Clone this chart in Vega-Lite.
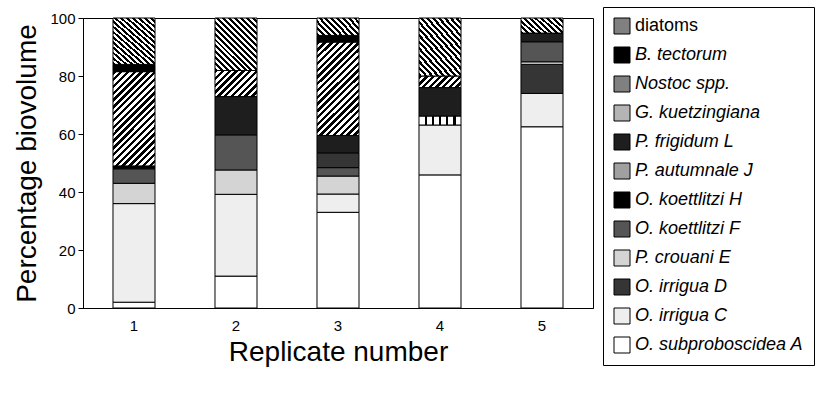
{
  "$schema": "https://vega.github.io/schema/vega-lite/v6.json",
  "width": 510,
  "height": 290,
  "autosize": {"type": "none"},
  "padding": {"left": 83, "top": 18, "right": 222, "bottom": 87},
  "config": {
    "view": {"stroke": "black", "strokeWidth": 1},
    "font": "Liberation Sans",
    "axis": {"labelColor": "black", "titleColor": "black", "domainColor": "black", "tickColor": "black", "grid": false, "titleFontWeight": "normal"}
  },
  "data": {
    "values": [
      {"replicate": "1", "taxon": "O. subproboscidea A", "pct": 2, "stack": 1},
      {"replicate": "1", "taxon": "O. irrigua C", "pct": 34, "stack": 2},
      {"replicate": "1", "taxon": "P. crouani E", "pct": 7, "stack": 4},
      {"replicate": "1", "taxon": "O. koettlitzi F", "pct": 5, "stack": 5},
      {"replicate": "1", "taxon": "O. koettlitzi H", "pct": 1, "stack": 6},
      {"replicate": "1", "taxon": "Nostoc spp.", "pct": 32.5, "stack": 10},
      {"replicate": "1", "taxon": "B. tectorum", "pct": 2.5, "stack": 11},
      {"replicate": "1", "taxon": "diatoms", "pct": 16, "stack": 12},
      {"replicate": "2", "taxon": "O. subproboscidea A", "pct": 11, "stack": 1},
      {"replicate": "2", "taxon": "O. irrigua C", "pct": 28.2, "stack": 2},
      {"replicate": "2", "taxon": "P. crouani E", "pct": 8.4, "stack": 4},
      {"replicate": "2", "taxon": "O. koettlitzi F", "pct": 12.1, "stack": 5},
      {"replicate": "2", "taxon": "P. frigidum L", "pct": 13.2, "stack": 8},
      {"replicate": "2", "taxon": "Nostoc spp.", "pct": 9, "stack": 10},
      {"replicate": "2", "taxon": "diatoms", "pct": 18.1, "stack": 12},
      {"replicate": "3", "taxon": "O. subproboscidea A", "pct": 33, "stack": 1},
      {"replicate": "3", "taxon": "O. irrigua C", "pct": 6.3, "stack": 2},
      {"replicate": "3", "taxon": "P. crouani E", "pct": 6.2, "stack": 4},
      {"replicate": "3", "taxon": "O. koettlitzi F", "pct": 2.9, "stack": 5},
      {"replicate": "3", "taxon": "O. irrigua D", "pct": 5.1, "stack": 5.5},
      {"replicate": "3", "taxon": "P. frigidum L", "pct": 6, "stack": 8},
      {"replicate": "3", "taxon": "Nostoc spp.", "pct": 32.2, "stack": 10},
      {"replicate": "3", "taxon": "B. tectorum", "pct": 2.3, "stack": 11},
      {"replicate": "3", "taxon": "diatoms", "pct": 6, "stack": 12},
      {"replicate": "4", "taxon": "O. subproboscidea A", "pct": 45.9, "stack": 1},
      {"replicate": "4", "taxon": "O. irrigua C", "pct": 17.2, "stack": 2},
      {"replicate": "4", "taxon": "P. autumnale J", "pct": 3.1, "stack": 7},
      {"replicate": "4", "taxon": "P. frigidum L", "pct": 9.8, "stack": 8},
      {"replicate": "4", "taxon": "Nostoc spp.", "pct": 4, "stack": 10},
      {"replicate": "4", "taxon": "diatoms", "pct": 20, "stack": 12},
      {"replicate": "5", "taxon": "O. subproboscidea A", "pct": 62.5, "stack": 1},
      {"replicate": "5", "taxon": "O. irrigua C", "pct": 11.5, "stack": 2},
      {"replicate": "5", "taxon": "O. irrigua D", "pct": 10, "stack": 3},
      {"replicate": "5", "taxon": "P. crouani E", "pct": 0.9, "stack": 4},
      {"replicate": "5", "taxon": "O. koettlitzi F", "pct": 6.9, "stack": 5},
      {"replicate": "5", "taxon": "P. frigidum L", "pct": 3, "stack": 8},
      {"replicate": "5", "taxon": "diatoms", "pct": 5.2, "stack": 12}
    ]
  },
  "mark": {"type": "bar", "stroke": "black", "strokeWidth": 1},
  "encoding": {
    "x": {
      "field": "replicate",
      "type": "ordinal",
      "scale": {"paddingInner": 0.588, "paddingOuter": 0.294},
      "axis": {"labelAngle": 0, "title": "Replicate number", "labelFontSize": 15, "labelPadding": 10, "ticks": false, "titleFontSize": 28, "titlePadding": 5}
    },
    "y": {
      "field": "pct",
      "type": "quantitative",
      "stack": "zero",
      "scale": {"domain": [0, 100], "nice": false},
      "axis": {"values": [0, 20, 40, 60, 80, 100], "title": "Percentage biovolume", "labelFontSize": 15, "tickSize": 5, "labelPadding": 3, "titleFontSize": 28, "titlePadding": 8}
    },
    "fill": {
      "field": "taxon",
      "type": "nominal",
      "condition": [
        {"test": "datum.taxon === 'diatoms' && datum.pct > 10", "value": {"gradient": "linear", "x1": 0, "y1": 1, "x2": 0.878, "y2": -0.098, "stops": [
          {"offset": 0, "color": "black"}, {"offset": 0.03125, "color": "black"}, {"offset": 0.03125, "color": "white"}, {"offset": 0.0625, "color": "white"},
          {"offset": 0.0625, "color": "black"}, {"offset": 0.09375, "color": "black"}, {"offset": 0.09375, "color": "white"}, {"offset": 0.125, "color": "white"},
          {"offset": 0.125, "color": "black"}, {"offset": 0.15625, "color": "black"}, {"offset": 0.15625, "color": "white"}, {"offset": 0.1875, "color": "white"},
          {"offset": 0.1875, "color": "black"}, {"offset": 0.21875, "color": "black"}, {"offset": 0.21875, "color": "white"}, {"offset": 0.25, "color": "white"},
          {"offset": 0.25, "color": "black"}, {"offset": 0.28125, "color": "black"}, {"offset": 0.28125, "color": "white"}, {"offset": 0.3125, "color": "white"},
          {"offset": 0.3125, "color": "black"}, {"offset": 0.34375, "color": "black"}, {"offset": 0.34375, "color": "white"}, {"offset": 0.375, "color": "white"},
          {"offset": 0.375, "color": "black"}, {"offset": 0.40625, "color": "black"}, {"offset": 0.40625, "color": "white"}, {"offset": 0.4375, "color": "white"},
          {"offset": 0.4375, "color": "black"}, {"offset": 0.46875, "color": "black"}, {"offset": 0.46875, "color": "white"}, {"offset": 0.5, "color": "white"},
          {"offset": 0.5, "color": "black"}, {"offset": 0.53125, "color": "black"}, {"offset": 0.53125, "color": "white"}, {"offset": 0.5625, "color": "white"},
          {"offset": 0.5625, "color": "black"}, {"offset": 0.59375, "color": "black"}, {"offset": 0.59375, "color": "white"}, {"offset": 0.625, "color": "white"},
          {"offset": 0.625, "color": "black"}, {"offset": 0.65625, "color": "black"}, {"offset": 0.65625, "color": "white"}, {"offset": 0.6875, "color": "white"},
          {"offset": 0.6875, "color": "black"}, {"offset": 0.71875, "color": "black"}, {"offset": 0.71875, "color": "white"}, {"offset": 0.75, "color": "white"},
          {"offset": 0.75, "color": "black"}, {"offset": 0.78125, "color": "black"}, {"offset": 0.78125, "color": "white"}, {"offset": 0.8125, "color": "white"},
          {"offset": 0.8125, "color": "black"}, {"offset": 0.84375, "color": "black"}, {"offset": 0.84375, "color": "white"}, {"offset": 0.875, "color": "white"},
          {"offset": 0.875, "color": "black"}, {"offset": 0.90625, "color": "black"}, {"offset": 0.90625, "color": "white"}, {"offset": 0.9375, "color": "white"},
          {"offset": 0.9375, "color": "black"}, {"offset": 0.96875, "color": "black"}, {"offset": 0.96875, "color": "white"}, {"offset": 1, "color": "white"}
        ]}},
        {"test": "datum.taxon === 'diatoms'", "value": {"gradient": "linear", "x1": 0, "y1": 1, "x2": 1.206, "y2": 0.533, "stops": [
          {"offset": 0, "color": "black"}, {"offset": 0.05, "color": "black"}, {"offset": 0.05, "color": "white"}, {"offset": 0.1, "color": "white"},
          {"offset": 0.1, "color": "black"}, {"offset": 0.15, "color": "black"}, {"offset": 0.15, "color": "white"}, {"offset": 0.2, "color": "white"},
          {"offset": 0.2, "color": "black"}, {"offset": 0.25, "color": "black"}, {"offset": 0.25, "color": "white"}, {"offset": 0.3, "color": "white"},
          {"offset": 0.3, "color": "black"}, {"offset": 0.35, "color": "black"}, {"offset": 0.35, "color": "white"}, {"offset": 0.4, "color": "white"},
          {"offset": 0.4, "color": "black"}, {"offset": 0.45, "color": "black"}, {"offset": 0.45, "color": "white"}, {"offset": 0.5, "color": "white"},
          {"offset": 0.5, "color": "black"}, {"offset": 0.55, "color": "black"}, {"offset": 0.55, "color": "white"}, {"offset": 0.6, "color": "white"},
          {"offset": 0.6, "color": "black"}, {"offset": 0.65, "color": "black"}, {"offset": 0.65, "color": "white"}, {"offset": 0.7, "color": "white"},
          {"offset": 0.7, "color": "black"}, {"offset": 0.75, "color": "black"}, {"offset": 0.75, "color": "white"}, {"offset": 0.8, "color": "white"},
          {"offset": 0.8, "color": "black"}, {"offset": 0.85, "color": "black"}, {"offset": 0.85, "color": "white"}, {"offset": 0.9, "color": "white"},
          {"offset": 0.9, "color": "black"}, {"offset": 0.95, "color": "black"}, {"offset": 0.95, "color": "white"}, {"offset": 1, "color": "white"}
        ]}},
        {"test": "datum.taxon === 'Nostoc spp.' && datum.pct > 20", "value": {"gradient": "linear", "x1": 0, "y1": 0, "x2": 0.539, "y2": 1.206, "stops": [
          {"offset": 0, "color": "black"}, {"offset": 0.025, "color": "black"}, {"offset": 0.025, "color": "white"}, {"offset": 0.05, "color": "white"},
          {"offset": 0.05, "color": "black"}, {"offset": 0.075, "color": "black"}, {"offset": 0.075, "color": "white"}, {"offset": 0.1, "color": "white"},
          {"offset": 0.1, "color": "black"}, {"offset": 0.125, "color": "black"}, {"offset": 0.125, "color": "white"}, {"offset": 0.15, "color": "white"},
          {"offset": 0.15, "color": "black"}, {"offset": 0.175, "color": "black"}, {"offset": 0.175, "color": "white"}, {"offset": 0.2, "color": "white"},
          {"offset": 0.2, "color": "black"}, {"offset": 0.225, "color": "black"}, {"offset": 0.225, "color": "white"}, {"offset": 0.25, "color": "white"},
          {"offset": 0.25, "color": "black"}, {"offset": 0.275, "color": "black"}, {"offset": 0.275, "color": "white"}, {"offset": 0.3, "color": "white"},
          {"offset": 0.3, "color": "black"}, {"offset": 0.325, "color": "black"}, {"offset": 0.325, "color": "white"}, {"offset": 0.35, "color": "white"},
          {"offset": 0.35, "color": "black"}, {"offset": 0.375, "color": "black"}, {"offset": 0.375, "color": "white"}, {"offset": 0.4, "color": "white"},
          {"offset": 0.4, "color": "black"}, {"offset": 0.425, "color": "black"}, {"offset": 0.425, "color": "white"}, {"offset": 0.45, "color": "white"},
          {"offset": 0.45, "color": "black"}, {"offset": 0.475, "color": "black"}, {"offset": 0.475, "color": "white"}, {"offset": 0.5, "color": "white"},
          {"offset": 0.5, "color": "black"}, {"offset": 0.525, "color": "black"}, {"offset": 0.525, "color": "white"}, {"offset": 0.55, "color": "white"},
          {"offset": 0.55, "color": "black"}, {"offset": 0.575, "color": "black"}, {"offset": 0.575, "color": "white"}, {"offset": 0.6, "color": "white"},
          {"offset": 0.6, "color": "black"}, {"offset": 0.625, "color": "black"}, {"offset": 0.625, "color": "white"}, {"offset": 0.65, "color": "white"},
          {"offset": 0.65, "color": "black"}, {"offset": 0.675, "color": "black"}, {"offset": 0.675, "color": "white"}, {"offset": 0.7, "color": "white"},
          {"offset": 0.7, "color": "black"}, {"offset": 0.725, "color": "black"}, {"offset": 0.725, "color": "white"}, {"offset": 0.75, "color": "white"},
          {"offset": 0.75, "color": "black"}, {"offset": 0.775, "color": "black"}, {"offset": 0.775, "color": "white"}, {"offset": 0.8, "color": "white"},
          {"offset": 0.8, "color": "black"}, {"offset": 0.825, "color": "black"}, {"offset": 0.825, "color": "white"}, {"offset": 0.85, "color": "white"},
          {"offset": 0.85, "color": "black"}, {"offset": 0.875, "color": "black"}, {"offset": 0.875, "color": "white"}, {"offset": 0.9, "color": "white"},
          {"offset": 0.9, "color": "black"}, {"offset": 0.925, "color": "black"}, {"offset": 0.925, "color": "white"}, {"offset": 0.95, "color": "white"},
          {"offset": 0.95, "color": "black"}, {"offset": 0.975, "color": "black"}, {"offset": 0.975, "color": "white"}, {"offset": 1, "color": "white"}
        ]}},
        {"test": "datum.taxon === 'Nostoc spp.' && datum.pct > 6", "value": {"gradient": "linear", "x1": 0, "y1": 0, "x2": 1.17, "y2": 0.726, "stops": [
          {"offset": 0, "color": "black"}, {"offset": 0.05, "color": "black"}, {"offset": 0.05, "color": "white"}, {"offset": 0.1, "color": "white"},
          {"offset": 0.1, "color": "black"}, {"offset": 0.15, "color": "black"}, {"offset": 0.15, "color": "white"}, {"offset": 0.2, "color": "white"},
          {"offset": 0.2, "color": "black"}, {"offset": 0.25, "color": "black"}, {"offset": 0.25, "color": "white"}, {"offset": 0.3, "color": "white"},
          {"offset": 0.3, "color": "black"}, {"offset": 0.35, "color": "black"}, {"offset": 0.35, "color": "white"}, {"offset": 0.4, "color": "white"},
          {"offset": 0.4, "color": "black"}, {"offset": 0.45, "color": "black"}, {"offset": 0.45, "color": "white"}, {"offset": 0.5, "color": "white"},
          {"offset": 0.5, "color": "black"}, {"offset": 0.55, "color": "black"}, {"offset": 0.55, "color": "white"}, {"offset": 0.6, "color": "white"},
          {"offset": 0.6, "color": "black"}, {"offset": 0.65, "color": "black"}, {"offset": 0.65, "color": "white"}, {"offset": 0.7, "color": "white"},
          {"offset": 0.7, "color": "black"}, {"offset": 0.75, "color": "black"}, {"offset": 0.75, "color": "white"}, {"offset": 0.8, "color": "white"},
          {"offset": 0.8, "color": "black"}, {"offset": 0.85, "color": "black"}, {"offset": 0.85, "color": "white"}, {"offset": 0.9, "color": "white"},
          {"offset": 0.9, "color": "black"}, {"offset": 0.95, "color": "black"}, {"offset": 0.95, "color": "white"}, {"offset": 1, "color": "white"}
        ]}},
        {"test": "datum.taxon === 'Nostoc spp.'", "value": {"gradient": "linear", "x1": 0, "y1": 0, "x2": 1.186, "y2": 0.327, "stops": [
          {"offset": 0, "color": "black"}, {"offset": 0.0625, "color": "black"}, {"offset": 0.0625, "color": "white"}, {"offset": 0.125, "color": "white"},
          {"offset": 0.125, "color": "black"}, {"offset": 0.1875, "color": "black"}, {"offset": 0.1875, "color": "white"}, {"offset": 0.25, "color": "white"},
          {"offset": 0.25, "color": "black"}, {"offset": 0.3125, "color": "black"}, {"offset": 0.3125, "color": "white"}, {"offset": 0.375, "color": "white"},
          {"offset": 0.375, "color": "black"}, {"offset": 0.4375, "color": "black"}, {"offset": 0.4375, "color": "white"}, {"offset": 0.5, "color": "white"},
          {"offset": 0.5, "color": "black"}, {"offset": 0.5625, "color": "black"}, {"offset": 0.5625, "color": "white"}, {"offset": 0.625, "color": "white"},
          {"offset": 0.625, "color": "black"}, {"offset": 0.6875, "color": "black"}, {"offset": 0.6875, "color": "white"}, {"offset": 0.75, "color": "white"},
          {"offset": 0.75, "color": "black"}, {"offset": 0.8125, "color": "black"}, {"offset": 0.8125, "color": "white"}, {"offset": 0.875, "color": "white"},
          {"offset": 0.875, "color": "black"}, {"offset": 0.9375, "color": "black"}, {"offset": 0.9375, "color": "white"}, {"offset": 1, "color": "white"}
        ]}},
        {"test": "datum.taxon === 'P. autumnale J'", "value": {"gradient": "linear", "x1": 0, "y1": 0, "x2": 1, "y2": 0, "stops": [
          {"offset": 0, "color": "white"}, {"offset": 0.14, "color": "white"}, {"offset": 0.14, "color": "black"}, {"offset": 0.19, "color": "black"},
          {"offset": 0.19, "color": "white"}, {"offset": 0.31, "color": "white"}, {"offset": 0.31, "color": "black"}, {"offset": 0.36, "color": "black"},
          {"offset": 0.36, "color": "white"}, {"offset": 0.48, "color": "white"}, {"offset": 0.48, "color": "black"}, {"offset": 0.53, "color": "black"},
          {"offset": 0.53, "color": "white"}, {"offset": 0.65, "color": "white"}, {"offset": 0.65, "color": "black"}, {"offset": 0.7, "color": "black"},
          {"offset": 0.7, "color": "white"}, {"offset": 0.82, "color": "white"}, {"offset": 0.82, "color": "black"}, {"offset": 0.87, "color": "black"},
          {"offset": 0.87, "color": "white"}, {"offset": 1, "color": "white"}
        ]}}
      ],
      "scale": {
        "domain": ["diatoms", "B. tectorum", "Nostoc spp.", "G. kuetzingiana", "P. frigidum L", "P. autumnale J", "O. koettlitzi H", "O. koettlitzi F", "P. crouani E", "O. irrigua D", "O. irrigua C", "O. subproboscidea A"],
        "range": ["#808080", "#000000", "#808080", "#b4b4b4", "#1e1e1e", "#a0a0a0", "#000000", "#555555", "#d4d4d4", "#353535", "#eeeeee", "#ffffff"]
      },
      "legend": {
        "orient": "none",
        "legendX": 520,
        "legendY": -11,
        "title": null,
        "padding": 10,
        "strokeColor": "black",
        "fillColor": "white",
        "labelFontSize": 18,
        "labelColor": "black",
        "labelOffset": 4,
        "labelLimit": 300,
        "rowPadding": 9,
        "symbolType": "square",
        "symbolSize": 256,
        "symbolStrokeColor": "black",
        "symbolStrokeWidth": 1,
        "symbolOpacity": 1,
        "encode": {
          "labels": {"update": {"fontStyle": {"signal": "datum.label === 'diatoms' ? 'normal' : 'italic'"}}},
          "symbols": {"update": {
            "stroke": {"value": "black"},
            "strokeWidth": {"value": 1},
            "opacity": {"value": 1},
            "fill": [
              {"test": "datum.value === 'diatoms'", "value": {"gradient": "linear", "x1": 0, "y1": 1, "x2": 1, "y2": 0, "stops": [
                {"offset": 0, "color": "black"}, {"offset": 0.1, "color": "black"}, {"offset": 0.1, "color": "white"}, {"offset": 0.2, "color": "white"},
                {"offset": 0.2, "color": "black"}, {"offset": 0.3, "color": "black"}, {"offset": 0.3, "color": "white"}, {"offset": 0.4, "color": "white"},
                {"offset": 0.4, "color": "black"}, {"offset": 0.5, "color": "black"}, {"offset": 0.5, "color": "white"}, {"offset": 0.6, "color": "white"},
                {"offset": 0.6, "color": "black"}, {"offset": 0.7, "color": "black"}, {"offset": 0.7, "color": "white"}, {"offset": 0.8, "color": "white"},
                {"offset": 0.8, "color": "black"}, {"offset": 0.9, "color": "black"}, {"offset": 0.9, "color": "white"}, {"offset": 1, "color": "white"}
              ]}},
              {"test": "datum.value === 'Nostoc spp.'", "value": {"gradient": "linear", "x1": 0, "y1": 0, "x2": 1, "y2": 1, "stops": [
                {"offset": 0, "color": "black"}, {"offset": 0.1, "color": "black"}, {"offset": 0.1, "color": "white"}, {"offset": 0.2, "color": "white"},
                {"offset": 0.2, "color": "black"}, {"offset": 0.3, "color": "black"}, {"offset": 0.3, "color": "white"}, {"offset": 0.4, "color": "white"},
                {"offset": 0.4, "color": "black"}, {"offset": 0.5, "color": "black"}, {"offset": 0.5, "color": "white"}, {"offset": 0.6, "color": "white"},
                {"offset": 0.6, "color": "black"}, {"offset": 0.7, "color": "black"}, {"offset": 0.7, "color": "white"}, {"offset": 0.8, "color": "white"},
                {"offset": 0.8, "color": "black"}, {"offset": 0.9, "color": "black"}, {"offset": 0.9, "color": "white"}, {"offset": 1, "color": "white"}
              ]}},
              {"test": "datum.value === 'P. autumnale J'", "value": {"gradient": "linear", "x1": 0, "y1": 0, "x2": 1, "y2": 0, "stops": [
                {"offset": 0, "color": "white"}, {"offset": 0.22, "color": "white"}, {"offset": 0.22, "color": "black"}, {"offset": 0.3, "color": "black"},
                {"offset": 0.3, "color": "white"}, {"offset": 0.46, "color": "white"}, {"offset": 0.46, "color": "black"}, {"offset": 0.54, "color": "black"},
                {"offset": 0.54, "color": "white"}, {"offset": 0.7, "color": "white"}, {"offset": 0.7, "color": "black"}, {"offset": 0.78, "color": "black"},
                {"offset": 0.78, "color": "white"}, {"offset": 1, "color": "white"}
              ]}},
              {"scale": "fill", "field": "value"}
            ]
          }}
        }
      }
    },
    "order": {"field": "stack", "type": "quantitative"}
  }
}
